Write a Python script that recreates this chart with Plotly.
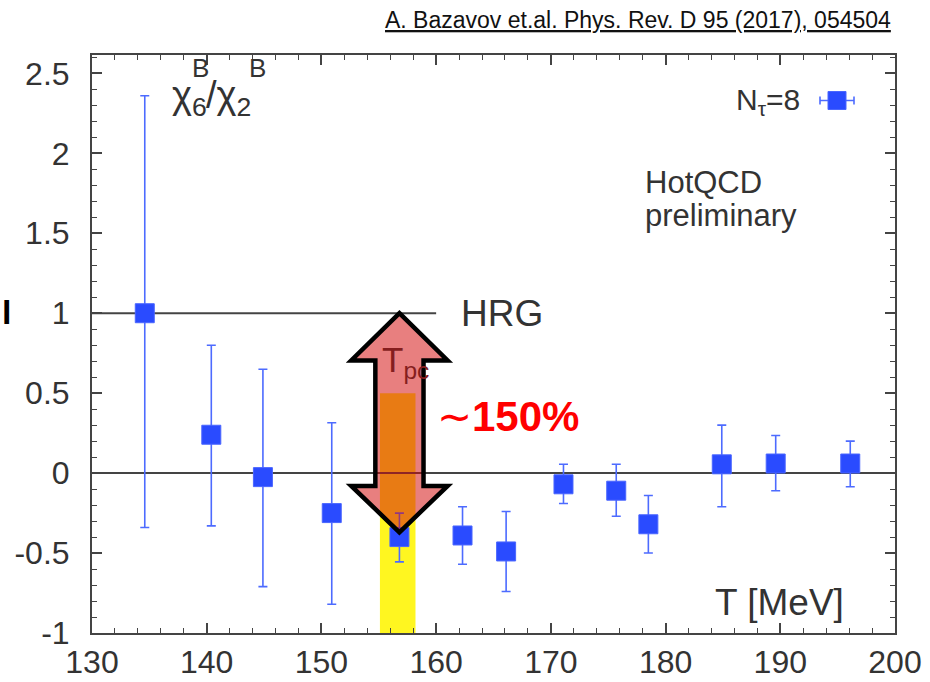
import plotly.graph_objects as go

# ---- data ----
T_vals = [134.6, 140.4, 144.9, 150.9, 156.8, 162.3, 166.1, 171.1, 175.7, 178.5, 184.9, 189.6, 196.1]
ratio = [1.00, 0.24, -0.025, -0.25, -0.40, -0.39, -0.49, -0.07, -0.11, -0.32, 0.055, 0.06, 0.06]
err_top = [2.36, 0.80, 0.65, 0.315, -0.25, -0.21, -0.24, 0.055, 0.055, -0.14, 0.30, 0.235, 0.20]
err_bot = [-0.34, -0.33, -0.71, -0.82, -0.555, -0.57, -0.74, -0.19, -0.27, -0.50, -0.21, -0.11, -0.085]

x_ticks = [130, 140, 150, 160, 170, 180, 190, 200]
x_ticktext = ["130", "140", "150", "160", "170", "180", "190", "200"]
y_ticks = [-1, -0.5, 0, 0.5, 1, 1.5, 2, 2.5]
y_ticktext = ["-1", "-0.5", "0", "0.5", "1", "1.5", "2", "2.5"]

x_range = [130, 200]
y_range = [-1, 2.615]

hrg_value = 1.0
hrg_end = 160
tpc_band = [155.1, 158.2]
tpc_band_top = 0.5
arrow_center = 156.8
arrow_tip_top = 1.0
arrow_head_top_base = 0.705
arrow_head_bot_base = -0.08
arrow_tip_bot = -0.37
arrow_shaft_half = 2.1
arrow_head_half = 4.2

# ---- geometry helpers (pixel -> paper) ----
L, R, TOP, BOT = 92.0, 895.0, 55.0, 633.0
W, H = R - L, BOT - TOP
def px(x):
    return (x - L) / W
def py(y):
    return (BOT - y) / H

FONT = "Liberation Sans, Arial, Helvetica, sans-serif"
TXT = "#333333"
BLUE = "#2a4bff"

ex_plus = [t - v for t, v in zip(err_top, ratio)]
ex_minus = [v - b for v, b in zip(ratio, err_bot)]

fig = go.Figure()
fig.add_trace(go.Scatter(
    x=T_vals, y=ratio, mode="markers",
    marker=dict(symbol="square", size=19, color=BLUE,
                line=dict(color="#4a66ff", width=1)),
    error_y=dict(type="data", symmetric=False, array=ex_plus, arrayminus=ex_minus,
                 color="#4d6bff", thickness=1.6, width=4.5),
    showlegend=False,
))

shapes = []
shapes.append(dict(type="rect", xref="x", yref="y", x0=tpc_band[0], x1=tpc_band[1],
                   y0=y_range[0], y1=tpc_band_top, fillcolor="#fff620",
                   line=dict(width=0), layer="below"))
shapes.append(dict(type="line", xref="x", yref="y", x0=x_range[0], x1=x_range[1],
                   y0=0, y1=0, line=dict(color="#444444", width=2), layer="below"))
shapes.append(dict(type="line", xref="x", yref="y", x0=x_range[0], x1=hrg_end,
                   y0=hrg_value, y1=hrg_value, line=dict(color="#444444", width=2), layer="below"))
c = arrow_center
pts = [
    (c, arrow_tip_top),
    (c + arrow_head_half, arrow_head_top_base),
    (c + arrow_shaft_half, arrow_head_top_base),
    (c + arrow_shaft_half, arrow_head_bot_base),
    (c + arrow_head_half, arrow_head_bot_base),
    (c, arrow_tip_bot),
    (c - arrow_head_half, arrow_head_bot_base),
    (c - arrow_shaft_half, arrow_head_bot_base),
    (c - arrow_shaft_half, arrow_head_top_base),
    (c - arrow_head_half, arrow_head_top_base),
]
path = "M " + " L ".join(f"{a},{b}" for a, b in pts) + " Z"
shapes.append(dict(type="path", xref="x", yref="y", path=path,
                   fillcolor="rgba(210,10,10,0.52)", line=dict(color="black", width=4.5),
                   layer="above"))
# legend key
kx, ky = 837, 100.5
shapes.append(dict(type="line", xref="paper", yref="paper", x0=px(820), x1=px(854),
                   y0=py(ky), y1=py(ky), line=dict(color="#4d6bff", width=1.6)))
for ex in (820, 854):
    shapes.append(dict(type="line", xref="paper", yref="paper", x0=px(ex), x1=px(ex),
                       y0=py(ky - 4), y1=py(ky + 4), line=dict(color="#4d6bff", width=1.6)))
shapes.append(dict(type="rect", xref="paper", yref="paper", x0=px(828), x1=px(846),
                   y0=py(ky - 9), y1=py(ky + 9), fillcolor=BLUE,
                   line=dict(color="#4a66ff", width=1)))

ann = []
def add(text, x, y, size, xanchor="left", yanchor="middle", color=TXT, font=FONT):
    ann.append(dict(text=text, x=px(x), y=py(y), xref="paper", yref="paper",
                    xanchor=xanchor, yanchor=yanchor, showarrow=False,
                    font=dict(family=font, size=size, color=color)))

add("<u>A. Bazavov et.al. Phys. Rev. D 95 (2017), 054504</u>", 893, 20, 23,
    xanchor="right", color="#111111")
add("χ<sub>6</sub>", 170, 98, 38)
add("B", 190, 68, 26)
add("/χ<sub>2</sub>", 204, 98, 38)
add("B", 247, 68, 26)
add("N<sub>τ</sub>=8", 802, 101, 30, xanchor="right")
add("HotQCD", 643, 183, 31)
add("preliminary", 643, 215, 31)
add("HRG", 459, 313, 37)
add("T [MeV]", 846, 602, 37, xanchor="right")
add("T<sub>pc</sub>", 380, 362, 35, color="#851e1e")
add("∼<b>150%</b>", 435, 416, 42, color="#ff0000")
add("<b>l</b>", 0, 312, 34, color="black")

axis_common = dict(
    showline=True, linecolor="#444444", linewidth=2, mirror="ticks",
    ticks="inside", ticklen=10, tickwidth=1.5, tickcolor="#444444",
    showgrid=False, zeroline=False, automargin=False,
    tickfont=dict(family=FONT, size=32, color=TXT),
)

fig.update_layout(
    width=930, height=682,
    margin=dict(l=92, r=35, t=55, b=49, pad=0),
    paper_bgcolor="white", plot_bgcolor="white",
    shapes=shapes, annotations=ann,
    xaxis=dict(range=x_range, tickvals=x_ticks, ticktext=x_ticktext,
               minor=dict(dtick=2, ticklen=5, tickwidth=1, tickcolor="#444444", ticks="inside"),
               ticklabelstandoff=0, **axis_common),
    yaxis=dict(range=y_range, tickvals=y_ticks, ticktext=y_ticktext,
               minor=dict(dtick=0.1, ticklen=5, tickwidth=1, tickcolor="#444444", ticks="inside"),
               ticklabelstandoff=14, **axis_common),
)

fig.write_html("out.html")
